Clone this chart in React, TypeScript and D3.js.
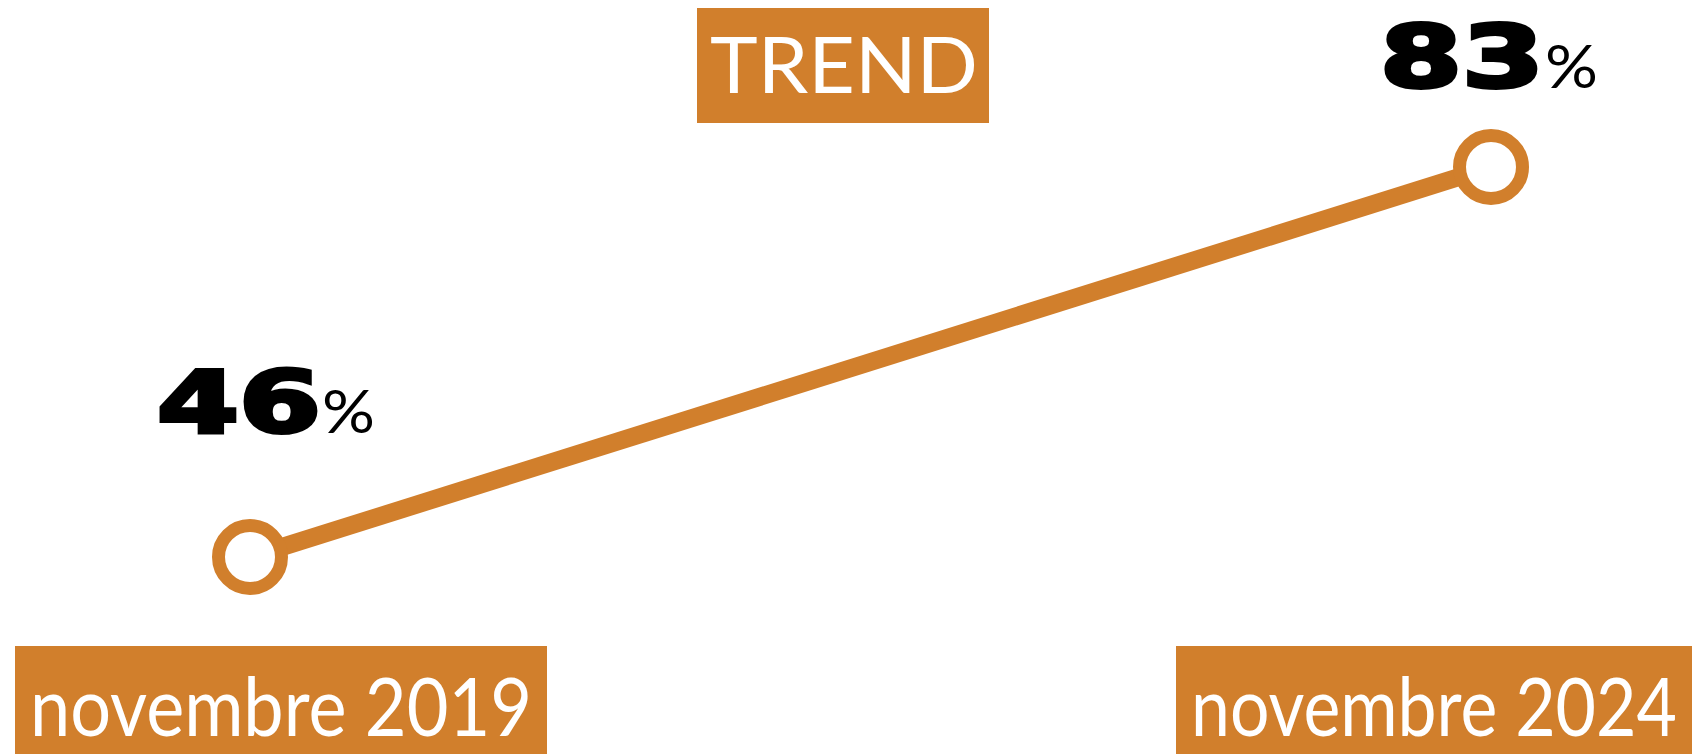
import * as d3 from "d3"
import { useLayoutEffect, useRef } from "react"

const periods = ["novembre 2019", "novembre 2024"]
const shares = [46, 83]
const title = "TREND"

const ORANGE = "#D17F2C"
const W = 1692
const H = 754

// per-point placement of the value label and the period box
const labelLayout = [
  { numStart: -89, baseline: -124 },
  { numStart: -107, baseline: -79 },
]
const boxLayout = [
  { left: -235, width: 532, textLen: 502 },
  { left: -315, width: 540, textLen: 486 },
]

export default function App() {
  const svgRef = useRef<SVGSVGElement>(null)

  const x = d3.scalePoint<string>().domain(periods).range([250, 1491])
  const y = d3.scaleLinear().domain([46, 83]).range([557, 167])

  const pts = periods.map((p, i) => ({ p, v: shares[i], cx: x(p)!, cy: y(shares[i]) }))
  const line = d3
    .line<{ cx: number; cy: number }>()
    .x((d) => d.cx)
    .y((d) => d.cy)

  // squeeze/stretch texts horizontally to a target width (keeps bbox honest)
  useLayoutEffect(() => {
    if (!svgRef.current) return
    d3.select(svgRef.current)
      .selectAll<SVGTextElement, unknown>("text[data-w]")
      .each(function () {
        const el = this
        el.removeAttribute("transform")
        const target = +el.getAttribute("data-w")!
        const x0 = +el.getAttribute("x")!
        const natural = el.getComputedTextLength()
        if (!natural) return
        const s = target / natural
        el.setAttribute("transform", `translate(${x0},0) scale(${s},1) translate(${-x0},0)`)
      })
  })

  return (
    <svg
      ref={svgRef}
      width={W}
      height={H}
      style={{ position: "absolute", left: 0, top: 0, background: "#fff" }}
    >
      {/* title */}
      <rect x={697} y={8} width={292} height={115} fill={ORANGE} />
      <text x={710} y={93} fill="#fff" fontFamily="Lato" fontSize={78} data-w={268}>
        {title}
      </text>

      <path d={line(pts) ?? ""} fill="none" stroke={ORANGE} strokeWidth={18} />
      {pts.map((d) => (
        <circle key={d.p} cx={d.cx} cy={d.cy} r={31.5} fill="#fff" stroke={ORANGE} strokeWidth={13} />
      ))}

      {pts.map((d, i) => {
        const l = labelLayout[i]
        const nx = d.cx + l.numStart
        const by = d.cy + l.baseline
        return (
          <g key={"lbl" + d.p}>
            <text
              x={nx - 4}
              y={by - 1}
              fontFamily="DejaVu Sans"
              fontWeight={700}
              fontSize={86}
              data-w={164}
              fill="#000"
              stroke="#000"
              strokeWidth={4}
              strokeLinejoin="miter"
            >
              {d.v}
            </text>
            <text x={nx + 161} y={by} fontFamily="Lato" fontSize={60} data-w={53} fill="#000">
              %
            </text>
          </g>
        )
      })}

      {pts.map((d, i) => {
        const b = boxLayout[i]
        const bx = d.cx + b.left
        return (
          <g key={"box" + d.p}>
            <rect x={bx} y={646} width={b.width} height={H - 646 + 10} fill={ORANGE} />
            <text x={bx + 15} y={736} fill="#fff" fontFamily="Lato" fontSize={82} data-w={b.textLen}>
              {d.p}
            </text>
          </g>
        )
      })}
    </svg>
  )
}
